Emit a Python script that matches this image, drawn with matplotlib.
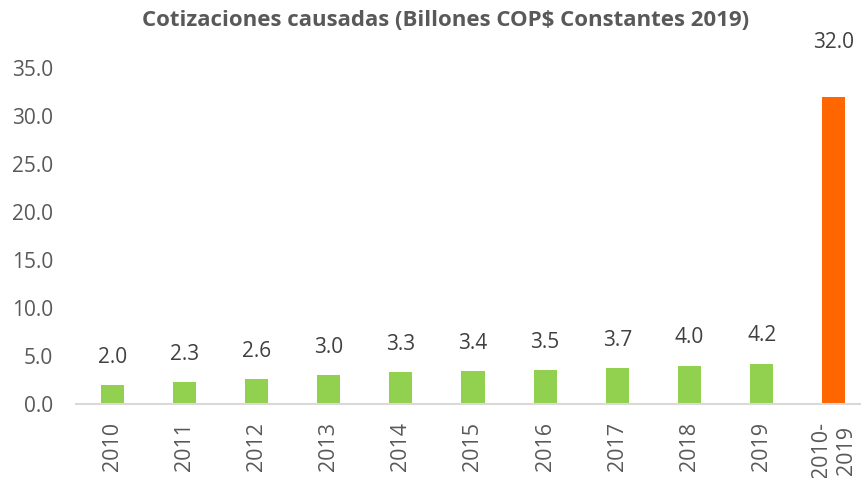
import matplotlib
matplotlib.use("Agg")
import matplotlib.pyplot as plt

categories = ["2010", "2011", "2012", "2013", "2014", "2015", "2016", "2017", "2018", "2019", "2010-\n2019"]
values = [2.0, 2.3, 2.6, 3.0, 3.3, 3.4, 3.5, 3.7, 4.0, 4.2, 32.0]
colors = ["#92D050"] * 10 + ["#FF6600"]
title = "Cotizaciones causadas (Billones COP$ Constantes 2019)"

plt.rcParams['font.family'] = ['Open Sans', 'DejaVu Sans']
txt = "#595959"

fig = plt.figure(figsize=(8.62, 4.78), dpi=100)
W, H = 862, 478
ax = fig.add_axes([76 / W, 74 / H, 794 / W, 336 / H])
x = list(range(len(categories)))
ax.bar(x, values, width=0.32, color=colors)
ax.set_xlim(-0.5, 10.5)
ax.set_ylim(0, 35)
ax.set_yticks([0, 5, 10, 15, 20, 25, 30, 35])
ax.set_yticklabels([f"{v:.1f}" for v in [0, 5, 10, 15, 20, 25, 30, 35]], fontsize=15, color=txt)
ax.set_xticks(x)
ax.set_xticklabels(categories, rotation=90, fontsize=15.5, color=txt, va="top", ha="center",
                   linespacing=1.25)
ax.tick_params(axis="both", length=0)
ax.tick_params(axis="y", pad=16.5)
ax.tick_params(axis="x", pad=13)
for s in ["top", "right", "left"]:
    ax.spines[s].set_visible(False)
ax.spines["bottom"].set_color("#D9D9D9")
ax.spines["bottom"].set_linewidth(1.5)

for i, v in enumerate(values):
    off = 39 if i == 10 else 20
    ax.annotate(f"{v:.1f}", (i, v), xytext=(0, off), textcoords="offset points",
                ha="center", va="center", fontsize=15, color="#404040")

fig.text(446 / W, 1 - 20 / H, title, ha="center", va="center", fontsize=16,
         fontweight="bold", color="#595959")

fig.savefig("out.png", dpi=100)
